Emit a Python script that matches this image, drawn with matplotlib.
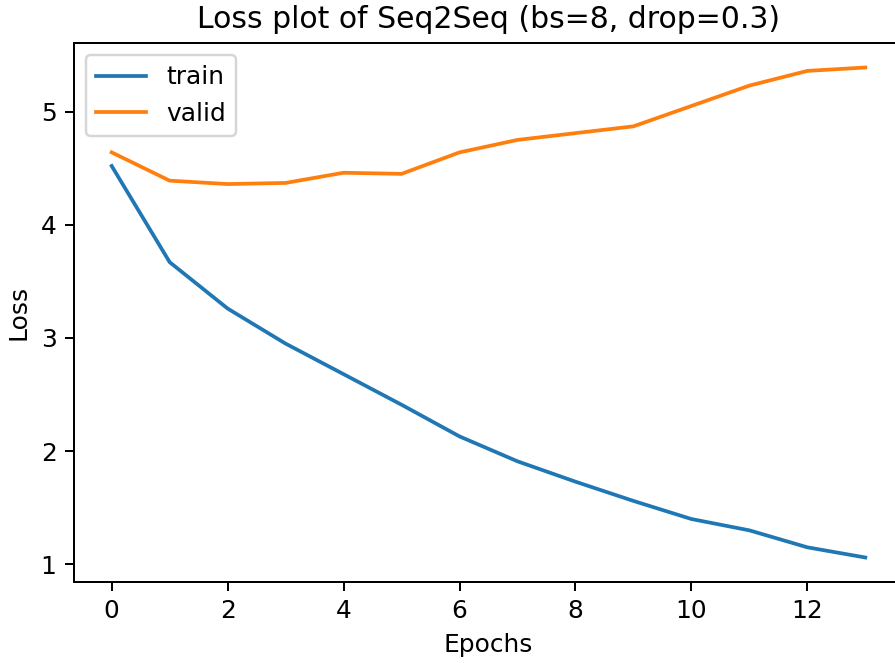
import matplotlib
matplotlib.use('Agg')
import matplotlib.pyplot as plt

epochs = list(range(14))
train_loss = [4.52, 3.67, 3.26, 2.95, 2.68, 2.41, 2.13, 1.91, 1.73, 1.56, 1.40, 1.30, 1.15, 1.06]
valid_loss = [4.64, 4.39, 4.36, 4.37, 4.46, 4.45, 4.64, 4.75, 4.81, 4.87, 5.05, 5.23, 5.36, 5.39]

fig = plt.figure(figsize=(895 / 179, 663 / 179), dpi=179)
plt.plot(epochs, train_loss, label='train')
plt.plot(epochs, valid_loss, label='valid')
plt.title('Loss plot of Seq2Seq (bs=8, drop=0.3)')
plt.xlabel('Epochs')
plt.ylabel('Loss')
plt.legend(loc='upper left')
# right spine sits just past the image edge, as in the reference crop
plt.subplots_adjust(left=74 / 895, right=903 / 895, top=1 - 43 / 663, bottom=1 - 582 / 663)
plt.savefig('out.png', dpi=179)
